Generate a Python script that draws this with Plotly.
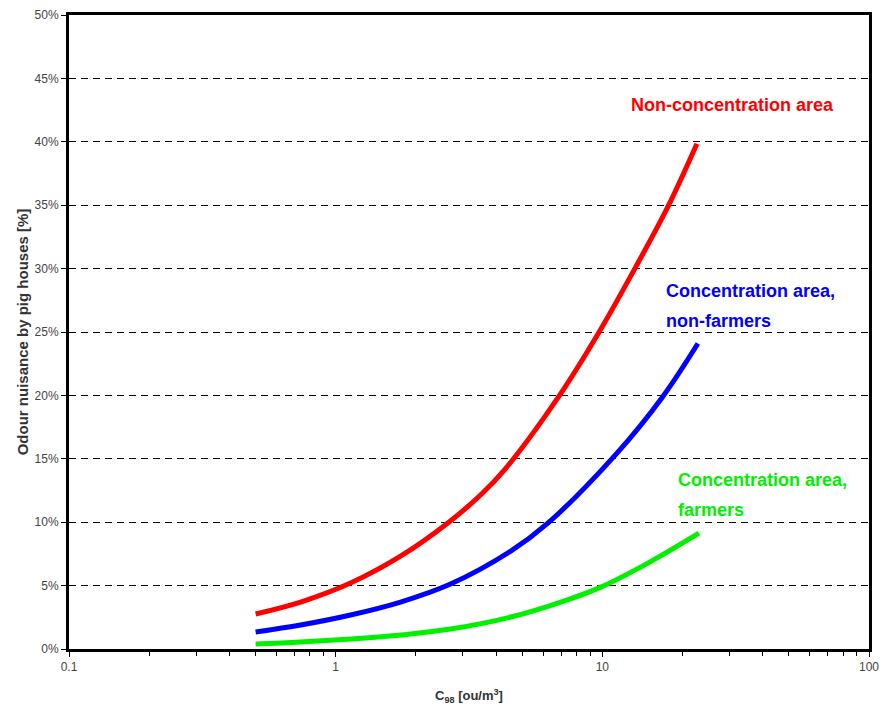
import plotly.graph_objects as go

# Data
x_non_conc = [0.501, 0.739, 1.137, 1.751, 2.627, 3.501, 4.344, 6.868, 9.703, 13.24, 17.62, 22.63]
y_non_conc = [2.76, 3.70, 5.20, 7.32, 9.92, 12.16, 14.25, 19.92, 24.96, 30.0, 34.88, 39.84]

x_conc_nonfarm = [0.501, 0.739, 1.137, 1.751, 2.696, 4.536, 6.245, 11.24, 16.87, 22.82]
y_conc_nonfarm = [1.34, 1.89, 2.68, 3.70, 5.12, 7.72, 9.92, 15.35, 19.92, 24.09]

x_conc_farm = [0.501, 0.739, 1.137, 1.751, 2.696, 4.536, 7.171, 9.872, 14.82, 23.02]
y_conc_farm = [0.39, 0.55, 0.79, 1.10, 1.57, 2.52, 3.78, 4.88, 6.77, 9.13]

x_tick_vals = [0.1, 1, 10, 100]
x_tick_text = ["0.1", "1", "10", "100"]
y_tick_vals = [0, 5, 10, 15, 20, 25, 30, 35, 40, 45, 50]
y_tick_text = ["0%", "5%", "10%", "15%", "20%", "25%", "30%", "35%", "40%", "45%", "50%"]

label_lines = ["Non-concentration area",
               "Concentration area,", "non-farmers",
               "Concentration area,", "farmers"]

FONT = "Liberation Sans, Arial, sans-serif"
RED, BLUE, GREEN = "#ff0000", "#0000ff", "#00f000"

fig = go.Figure()
series = [
    (x_non_conc, y_non_conc, RED, "Non-concentration area"),
    (x_conc_nonfarm, y_conc_nonfarm, BLUE, "Concentration area, non-farmers"),
    (x_conc_farm, y_conc_farm, GREEN, "Concentration area, farmers"),
]
for xs, ys, col, name in series:
    fig.add_trace(go.Scatter(x=xs, y=ys, mode="lines", name=name,
                             line=dict(color=col, width=5, shape="spline", smoothing=1.0),
                             showlegend=False))

# annotation x in log10 units (log axis)
label_pos = [(1.099, 42.9, RED), (1.231, 28.27, BLUE), (1.231, 25.83, BLUE),
             (1.276, 13.31, GREEN), (1.276, 10.94, GREEN)]
for txt, (lx, ly, col) in zip(label_lines, label_pos):
    fig.add_annotation(x=lx, y=ly, xref="x", yref="y", text="<b>" + txt + "</b>",
                       showarrow=False, xanchor="left", yanchor="middle", align="left",
                       font=dict(family=FONT, size=18, color=col))

fig.update_layout(
    width=873, height=697,
    margin=dict(l=61, r=12, t=7, b=56),
    paper_bgcolor="white", plot_bgcolor="white",
    font=dict(family=FONT, size=12, color="#444444"),
)
fig.update_xaxes(
    type="log", range=[-1, 2], automargin=False,
    tickvals=x_tick_vals, ticktext=x_tick_text,
    ticks="outside", ticklen=5, tickwidth=1, tickcolor="black",
    minor=dict(ticks="outside", ticklen=4, tickcolor="black", dtick="D1", showgrid=False),
    showgrid=False, zeroline=False,
    showline=True, linewidth=3, linecolor="black", mirror=True,
    tickfont=dict(family=FONT, size=12, color="#444444"),
    title=dict(text="<b>C<sub>98</sub> [ou/m<sup>3</sup>]</b>", standoff=24,
               font=dict(family=FONT, size=13, color="#333333")),
)
fig.update_yaxes(
    range=[0, 50], automargin=False,
    tickvals=y_tick_vals, ticktext=y_tick_text,
    ticks="outside", ticklen=5, tickwidth=1, tickcolor="black",
    showgrid=True, gridcolor="black", gridwidth=1, griddash="7px,5px",
    zeroline=False,
    showline=True, linewidth=3, linecolor="black", mirror=True,
    tickfont=dict(family=FONT, size=12, color="#444444"),
    title=dict(text="<b>Odour nuisance by pig houses [%]</b>", standoff=3,
               font=dict(family=FONT, size=15, color="#333333")),
)

fig.write_html("out.html")
